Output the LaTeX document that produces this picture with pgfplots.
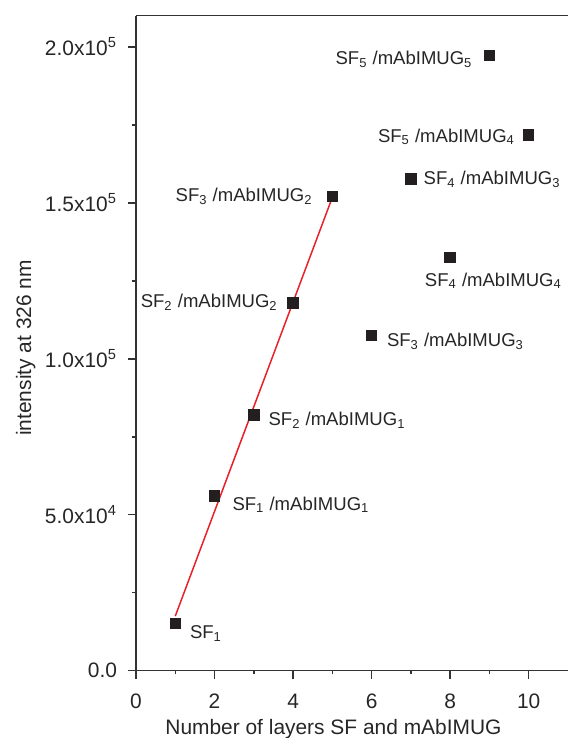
\documentclass[border=0pt]{standalone}
\usepackage{pgfplots}
\pgfplotsset{compat=1.18}
\usepackage{fontspec}
\setmainfont{Liberation Sans}
\definecolor{mk}{HTML}{231F20}
\definecolor{ln}{HTML}{E8202A}
\definecolor{ax}{HTML}{333333}
\tikzset{lab/.style={font=\fontsize{9.3}{11}\selectfont, text=black!85, inner sep=0pt}}
\begin{document}
\begin{tikzpicture}
\begin{axis}[
  at={(0,0)}, anchor=south west,
  scale only axis, width=216bp, height=327.5bp,
  xmin=0, xmax=11, ymin=0, ymax=210000,
  clip=false,
  axis x line*=bottom, axis y line*=left,
  axis line style={-, line width=0.75bp, color=ax},
  tick align=outside,
  major tick length=4.2bp, minor tick length=1.8bp,
  every tick/.style={line width=0.75bp, color=ax},
  xtick={0,2,4,6,8,10}, minor xtick={1,3,5,7,9},
  ytick={0,50000,100000,150000,200000},
  minor ytick={25000,75000,125000,175000},
  scaled y ticks=false,
  yticklabels={0.0, 5.0x10\textsuperscript{4}, 1.0x10\textsuperscript{5}, 1.5x10\textsuperscript{5}, 2.0x10\textsuperscript{5}},
  xticklabels={0,2,4,6,8,10},
  ticklabel style={font=\fontsize{10.5}{12}\selectfont, text=black!85},
  xticklabel style={yshift=-4bp},
  yticklabel style={xshift=-1.8bp},
  xlabel={Number of layers SF and mAbIMUG},
  ylabel={intensity at 326 nm},
  label style={font=\fontsize{10.5}{12}\selectfont, text=black!85},
  xlabel style={at={(axis description cs:0.457,-0.097)}, anchor=base, inner sep=0pt},
  ylabel style={at={(axis description cs:-0.243,0.4927)}, rotate=0, anchor=base, inner sep=0pt},
]
\addplot[ln, line width=0.75bp] coordinates {(1,17500) (5,151780)};
\addplot[only marks, mark=square*, mark size=2.6bp, mark options={fill=mk, draw=mk, line width=0pt}] coordinates {
 (1,15200) (2,56000) (3,82000) (4,117900) (5,152100)
 (6,107500) (7,157650) (8,132400) (9,197200) (10,171800)
};
\draw[line width=0.75bp, ax] (rel axis cs:0,1) -- (rel axis cs:1,1);
\node[lab, anchor=base west] at ([xshift=7.2bp, yshift=-7.5bp]axis cs:1,15200) {SF\textsubscript{1}};
\node[lab, anchor=base west] at ([xshift=8.8bp, yshift=-7bp]axis cs:2,56000) {SF\textsubscript{1} /mAbIMUG\textsubscript{1}};
\node[lab, anchor=base west] at ([xshift=7.2bp, yshift=-5.5bp]axis cs:3,82000) {SF\textsubscript{2} /mAbIMUG\textsubscript{1}};
\node[lab, anchor=base east] at ([xshift=-7.5bp, yshift=-2.5bp]axis cs:4,117900) {SF\textsubscript{2} /mAbIMUG\textsubscript{2}};
\node[lab, anchor=base east] at ([xshift=-9.7bp, yshift=-2.5bp]axis cs:5,152100) {SF\textsubscript{3} /mAbIMUG\textsubscript{2}};
\node[lab, anchor=base west] at ([xshift=7.5bp, yshift=-5.5bp]axis cs:6,107500) {SF\textsubscript{3} /mAbIMUG\textsubscript{3}};
\node[lab, anchor=base west] at ([xshift=6.2bp, yshift=-3bp]axis cs:7,157650) {SF\textsubscript{4} /mAbIMUG\textsubscript{3}};
\node[lab, anchor=base west] at ([xshift=-12.8bp, yshift=-14.2bp]axis cs:8,132400) {SF\textsubscript{4} /mAbIMUG\textsubscript{4}};
\node[lab, anchor=base east] at ([xshift=-8.3bp, yshift=-4.5bp]axis cs:9,197200) {SF\textsubscript{5} /mAbIMUG\textsubscript{5}};
\node[lab, anchor=base east] at ([xshift=-6.7bp, yshift=-3.7bp]axis cs:10,171800) {SF\textsubscript{5} /mAbIMUG\textsubscript{4}};
\end{axis}
\pgfresetboundingbox
\path (-68bp,-33.65bp) rectangle (216bp,335.35bp);
\end{tikzpicture}
\end{document}
